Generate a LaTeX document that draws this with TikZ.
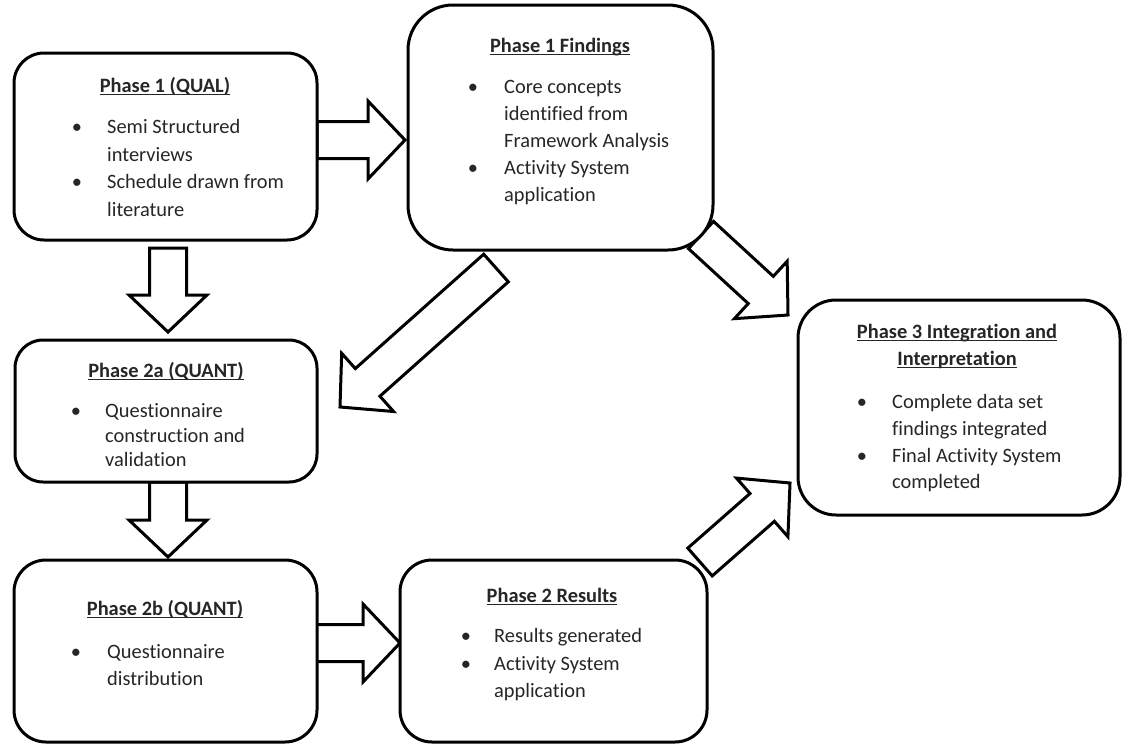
\documentclass[tikz,border=0pt]{standalone}
\usepackage{fontspec}
\setmainfont{Carlito}[RawFeature={-liga;-clig}]
\usetikzlibrary{calc}
\newcommand\ulx[1]{\setbox0\hbox{#1}\rlap{\rule[-3pt]{\wd0}{1.5pt}}\box0}
\tikzset{
  box/.style={draw, line width=3pt, fill=white, rounded corners=#1, inner sep=0pt},
  box/.default=30pt,
  hd/.style={font=\fontsize{20.4}{27}\selectfont\bfseries, inner sep=0pt, anchor=base, text=black!85},
  tx/.style={font=\fontsize{20.4}{27}\selectfont, inner sep=0pt, anchor=base west, text=black!85},
  bl/.style={font=\fontsize{20.4}{27}\selectfont, inner sep=0pt, anchor=base, text=black!85},
  barrow/.style={draw, line width=3pt, fill=white, line join=miter,
    to path={let \p1=(\tikztostart), \p2=(\tikztotarget),
      \n1={atan2(\y2-\y1,\x2-\x1)} in
      ($(\p1)+({\n1+90}:18.5pt)$)
      -- ($(\p2)+({\n1+180}:37pt)+({\n1+90}:18.5pt)$)
      -- ($(\p2)+({\n1+180}:37pt)+({\n1+90}:39pt)$)
      -- (\p2)
      -- ($(\p2)+({\n1+180}:37pt)+({\n1-90}:39pt)$)
      -- ($(\p2)+({\n1+180}:37pt)+({\n1-90}:18.5pt)$)
      -- ($(\p1)+({\n1-90}:18.5pt)$) -- cycle}}
}
\begin{document}
\begin{tikzpicture}[x=1pt,y=-1pt]
\useasboundingbox[fill=white] (0,0) rectangle (1126,745);
% arrow end points
\coordinate (a1s) at (317,140);  \coordinate (a1e) at (405,140);
\coordinate (a2s) at (168,248);  \coordinate (a2e) at (168,332);
\coordinate (a3s) at (168,482);  \coordinate (a3e) at (168,557);
\coordinate (a4s) at (315,643);  \coordinate (a4e) at (400,643);
\coordinate (a5s) at (496,268);  \coordinate (a5e) at (340,407);
\coordinate (a6s) at (701,235);  \coordinate (a6e) at (788,315);
\coordinate (a7s) at (700,562);  \coordinate (a7e) at (790,483);
% block arrows
\draw[barrow] (a1s) to (a1e);
\draw[barrow] (a2s) to (a2e);
\draw[barrow] (a3s) to (a3e);
\draw[barrow] (a4s) to (a4e);
\draw[barrow] (a5s) to (a5e);
\draw[barrow] (a6s) to (a6e);
\draw[barrow] (a7s) to (a7e);
% boxes
\node[box=30pt, minimum width=303pt, minimum height=187pt] (b1) at (165.5,146.5) {};
\node[box=45pt, minimum width=305pt, minimum height=245pt] (b2) at (560.5,127.5) {};
\node[box=28pt, minimum width=302pt, minimum height=142pt] (b3) at (166,411) {};
\node[box=32pt, minimum width=303pt, minimum height=182pt] (b4) at (165.5,651) {};
\node[box=32pt, minimum width=307pt, minimum height=182pt] (b5) at (553.5,651) {};
\node[box=38pt, minimum width=322pt, minimum height=215pt] (b6) at (959,407.5) {};
% box 1
\node[hd] (h1) at (165,92) {\ulx{Phase 1 (QUAL)}};
\node[bl] (d1a) at (77,133) {•};
\node[bl] (d1b) at (77,188) {•};
\node[tx] (t1a) at (107,133) {Semi Structured};
\node[tx] (t1b) at (107,161) {interviews};
\node[tx] (t1c) at (107,188) {Schedule drawn from};
\node[tx] (t1d) at (107,216) {literature};
% box 2
\node[hd] (h2) at (560,52) {\ulx{Phase 1 Findings}};
\node[bl] (d2a) at (473,93) {•};
\node[bl] (d2b) at (473,174) {•};
\node[tx] (t2a) at (504,93) {Core concepts};
\node[tx] (t2b) at (504,120) {identified from};
\node[tx] (t2c) at (504,147) {Framework Analysis};
\node[tx] (t2d) at (504,174) {Activity System};
\node[tx] (t2e) at (504,201) {application};
% box 3
\node[hd] (h3) at (166,377) {\ulx{Phase 2a (QUANT)}};
\node[bl] (d3a) at (76,417) {•};
\node[tx] (t3a) at (105,417) {Questionnaire};
\node[tx] (t3b) at (105,442) {construction and};
\node[tx] (t3c) at (105,466) {validation};
% box 4
\node[hd] (h4) at (165,615) {\ulx{Phase 2b (QUANT)}};
\node[bl] (d4a) at (76,658) {•};
\node[tx] (t4a) at (107,658) {Questionnaire};
\node[tx] (t4b) at (107,685) {distribution};
% box 5
\node[hd] (h5) at (552,602) {\ulx{Phase 2 Results}};
\node[bl] (d5a) at (466,642) {•};
\node[bl] (d5b) at (466,670) {•};
\node[tx] (t5a) at (494,642) {Results generated};
\node[tx] (t5b) at (494,670) {Activity System};
\node[tx] (t5c) at (494,697) {application};
% box 6
\node[hd] (h6a) at (957,338) {\ulx{Phase 3 Integration and}};
\node[hd] (h6b) at (957,365) {\ulx{Interpretation}};
\node[bl] (d6a) at (862,408) {•};
\node[bl] (d6b) at (862,462) {•};
\node[tx] (t6a) at (892,408) {Complete data set};
\node[tx] (t6b) at (892,435) {findings integrated};
\node[tx] (t6c) at (892,462) {Final Activity System};
\node[tx] (t6d) at (892,488) {completed};
\end{tikzpicture}
\end{document}
